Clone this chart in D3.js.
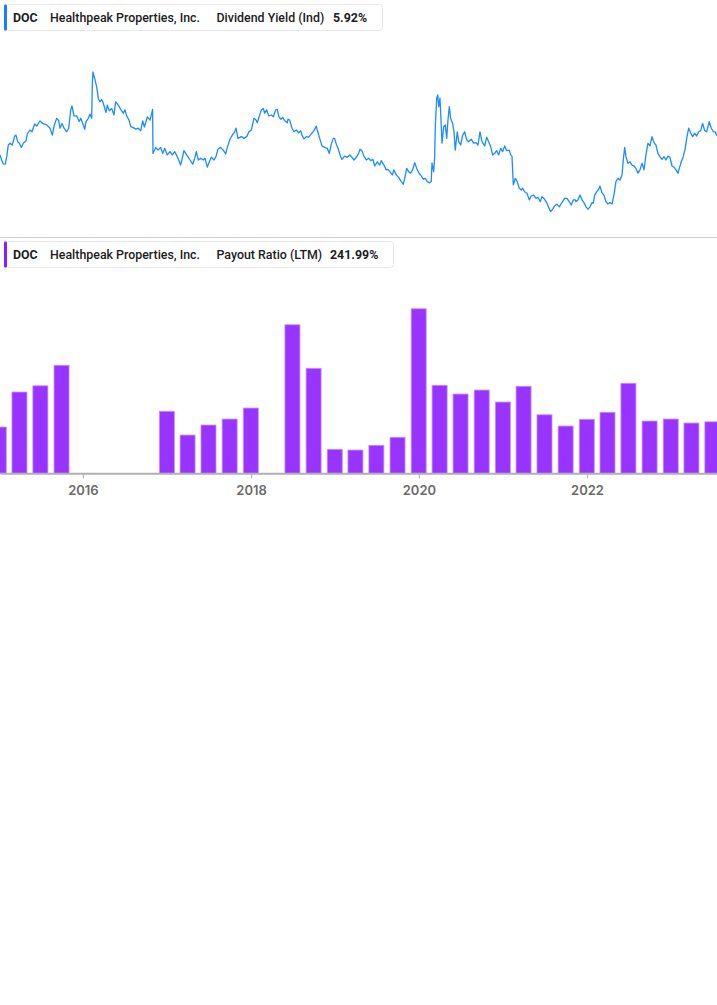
<!DOCTYPE html>
<html>
<head>
<meta charset="utf-8">
<script src="https://cdn.jsdelivr.net/npm/d3@7"></script>
<style>
  html, body { margin: 0; padding: 0; background: #ffffff; }
  svg { display: block; font-family: Roboto, "Noto Sans", sans-serif; }
</style>
</head>
<body>
<svg id="chart" width="717" height="1005"></svg>
<script>
// ---------- DATA ----------
const ticker = "DOC";
const company = "Healthpeak Properties, Inc.";
const yieldLabel = "Dividend Yield (Ind)";
const yieldLatest = "5.92%";
const payoutLabel = "Payout Ratio (LTM)";
const payoutLatest = "241.99%";

// Dividend yield (%) — dates as decimal years
const yieldDates = [
2015.012,2015.032,2015.051,2015.075,2015.092,2015.111,2015.131,2015.158,2015.187,2015.202,2015.223,2015.242,2015.266,2015.289,2015.322,2015.337,2015.369,2015.393,2015.425,2015.449,2015.488,2015.520,2015.568,2015.607,2015.635,2015.655,2015.687,2015.711,2015.726,2015.750,2015.774,2015.806,2015.830,2015.854,2015.869,2015.893,2015.925,2015.956,2015.973,2016.004,2016.020,2016.036,2016.063,2016.083,2016.104,2016.111,2016.119,2016.143,2016.163,2016.182,2016.202,2016.223,2016.242,2016.274,2016.289,2016.313,2016.342,2016.369,2016.389,2016.420,2016.449,2016.480,2016.500,2016.520,2016.548,2016.568,2016.599,2016.631,2016.658,2016.687,2016.711,2016.732,2016.766,2016.798,2016.829,2016.833,2016.866,2016.893,2016.925,2016.949,2016.973,2017.004,2017.036,2017.063,2017.092,2017.123,2017.163,2017.202,2017.235,2017.274,2017.306,2017.330,2017.349,2017.373,2017.401,2017.432,2017.452,2017.480,2017.504,2017.528,2017.560,2017.583,2017.607,2017.639,2017.670,2017.699,2017.718,2017.750,2017.777,2017.806,2017.822,2017.845,2017.885,2017.917,2017.949,2017.976,2018.004,2018.036,2018.060,2018.075,2018.095,2018.123,2018.147,2018.163,2018.187,2018.211,2018.242,2018.266,2018.294,2018.313,2018.333,2018.354,2018.377,2018.401,2018.432,2018.441,2018.461,2018.488,2018.512,2018.539,2018.568,2018.592,2018.607,2018.631,2018.658,2018.687,2018.718,2018.750,2018.777,2018.789,2018.818,2018.845,2018.877,2018.908,2018.932,2018.956,2018.980,2018.996,2019.015,2019.036,2019.068,2019.083,2019.115,2019.146,2019.179,2019.202,2019.226,2019.254,2019.282,2019.298,2019.321,2019.345,2019.373,2019.401,2019.425,2019.452,2019.473,2019.504,2019.532,2019.551,2019.583,2019.611,2019.631,2019.663,2019.682,2019.702,2019.730,2019.758,2019.789,2019.813,2019.830,2019.854,2019.877,2019.901,2019.925,2019.949,2019.973,2019.996,2020.020,2020.051,2020.075,2020.099,2020.127,2020.146,2020.155,2020.175,2020.187,2020.194,2020.211,2020.223,2020.235,2020.250,2020.266,2020.274,2020.294,2020.313,2020.330,2020.345,2020.361,2020.377,2020.401,2020.417,2020.432,2020.456,2020.473,2020.496,2020.520,2020.544,2020.568,2020.592,2020.623,2020.651,2020.679,2020.702,2020.726,2020.750,2020.782,2020.806,2020.830,2020.854,2020.877,2020.901,2020.925,2020.949,2020.973,2020.997,2021.020,2021.044,2021.075,2021.092,2021.107,2021.123,2021.147,2021.170,2021.194,2021.218,2021.235,2021.258,2021.286,2021.313,2021.337,2021.366,2021.393,2021.417,2021.444,2021.464,2021.496,2021.524,2021.544,2021.568,2021.592,2021.615,2021.643,2021.670,2021.702,2021.735,2021.762,2021.789,2021.813,2021.837,2021.861,2021.869,2021.893,2021.917,2021.941,2021.964,2021.988,2022.012,2022.036,2022.060,2022.075,2022.092,2022.115,2022.139,2022.155,2022.179,2022.202,2022.226,2022.250,2022.274,2022.298,2022.321,2022.345,2022.369,2022.393,2022.417,2022.432,2022.449,2022.464,2022.488,2022.512,2022.536,2022.560,2022.583,2022.607,2022.631,2022.655,2022.679,2022.702,2022.726,2022.750,2022.774,2022.798,2022.821,2022.845,2022.869,2022.893,2022.917,2022.940,2022.964,2022.988,2023.012,2023.036,2023.060,2023.083,2023.099,2023.123,2023.146,2023.170,2023.187,2023.211,2023.234,2023.258,2023.282,2023.306,2023.330,2023.354,2023.377,2023.401,2023.425,2023.456,2023.480,2023.504,2023.527,2023.548
];
const yieldValues = [
5.29,5.12,4.99,4.98,5.23,5.62,5.68,5.62,5.92,5.95,5.73,5.68,5.54,5.68,5.76,5.99,6.12,6.06,6.32,6.25,6.42,6.34,6.29,6.18,5.95,6.25,6.51,6.43,6.18,6.34,6.18,6.06,6.18,6.79,6.92,6.59,6.59,6.40,6.51,6.29,6.14,6.40,6.51,6.65,6.51,7.68,8.06,7.79,7.56,7.18,7.06,7.14,7.01,6.70,6.95,6.76,6.84,6.62,7.06,6.95,6.81,6.68,6.79,6.59,6.45,6.23,6.20,6.15,6.18,6.09,6.42,6.22,6.56,6.45,6.81,5.34,5.54,5.45,5.54,5.34,5.51,5.29,5.40,5.29,5.40,5.23,4.95,5.43,5.29,5.12,4.98,5.18,5.40,5.12,5.18,5.12,5.18,4.88,5.06,5.21,5.12,5.23,5.48,5.54,5.45,5.32,5.54,5.81,5.95,6.06,6.18,5.84,5.90,5.84,5.90,6.06,6.12,6.51,6.45,6.36,6.54,6.79,6.84,6.68,6.79,6.59,6.62,6.56,6.79,6.81,6.56,6.48,6.54,6.43,6.36,6.48,6.45,6.18,6.06,6.12,6.03,6.10,5.95,5.82,5.90,5.88,5.99,6.10,6.25,6.12,5.84,5.59,5.54,5.51,5.34,5.65,5.84,5.84,5.65,5.51,5.23,5.14,5.25,5.21,5.29,5.21,5.12,5.21,5.34,5.48,5.43,5.25,5.12,5.18,5.10,5.14,4.92,5.06,4.95,5.10,4.95,4.79,4.81,4.70,4.62,4.79,4.62,4.54,4.40,4.31,4.51,4.84,4.73,4.68,4.79,5.03,4.84,4.70,4.62,4.48,4.51,4.40,4.36,4.40,5.02,4.73,5.23,6.23,7.18,7.29,6.90,7.18,6.23,5.68,6.23,6.29,5.84,6.45,6.90,6.51,6.34,6.06,5.45,6.06,5.73,5.62,5.95,6.06,5.79,5.73,5.81,5.68,5.70,5.62,6.06,5.73,5.59,5.88,5.73,5.56,5.29,5.34,5.43,5.29,5.51,5.40,5.59,5.43,5.45,5.29,5.25,4.29,4.51,4.40,4.18,4.12,4.18,4.06,4.01,3.79,3.92,3.95,3.84,3.88,3.73,3.90,3.81,3.68,3.54,3.40,3.48,3.59,3.65,3.56,3.70,3.84,3.84,3.73,3.62,3.79,3.79,3.73,3.79,3.95,3.79,3.70,3.56,3.48,3.56,3.70,3.68,3.95,4.06,4.14,4.25,4.03,3.95,3.73,3.65,3.70,3.65,3.95,4.40,4.51,4.45,4.62,5.12,5.54,5.23,5.01,5.06,4.95,4.92,4.84,4.68,4.79,5.01,4.79,5.29,5.68,5.59,5.90,5.70,5.62,5.34,5.23,5.14,5.23,5.12,5.25,5.21,4.92,4.88,4.79,4.68,4.84,5.06,5.23,5.51,5.84,6.18,6.03,5.90,6.01,5.92,6.06,6.10,6.34,6.10,6.06,6.40,6.18,6.06,6.06,5.92
];

// Payout ratio (LTM, %) — quarter ends; null = not reported
const payoutQuarters = ["2014-12-31","2015-03-31","2015-06-30","2015-09-30","2015-12-31","2016-03-31","2016-06-30","2016-09-30","2016-12-31","2017-03-31","2017-06-30","2017-09-30","2017-12-31","2018-03-31","2018-06-30","2018-09-30","2018-12-31","2019-03-31","2019-06-30","2019-09-30","2019-12-31","2020-03-31","2020-06-30","2020-09-30","2020-12-31","2021-03-31","2021-06-30","2021-09-30","2021-12-31","2022-03-31","2022-06-30","2022-09-30","2022-12-31","2023-03-31","2023-06-30"];
const payoutValues = [185,325,350,432,null,null,null,null,248,153,193,217,261,null,594,420,96,93,112,144,658,352,317,333,285,348,234,189,216,244,360,209,217,201,206];

const xDomainYears = [2015.012, 2023.548];
const axisTickYears = [2016, 2018, 2020, 2022];

// ---------- CHART ----------
const W = 717;
const svg = d3.select("#chart");
const toDate = dy => new Date(Date.UTC(2015, 0, 1) + (dy - 2015) * 365.25 * 86400000);
const parse = d3.utcParse("%Y-%m-%d");

const x = d3.scaleUtc().domain(xDomainYears.map(toDate)).range([0, W]);

svg.append("defs").append("clipPath").attr("id", "clip")
  .append("rect").attr("x", 0).attr("y", 0).attr("width", W).attr("height", 1005);

// Legend helper
function legend(y0, width, accent, metric, value, metricX, valueX) {
  const g = svg.append("g").attr("transform", `translate(0,${y0})`);
  g.append("rect").attr("x", 4.5).attr("y", 0.5).attr("width", width).attr("height", 26)
    .attr("rx", 3).attr("fill", "#fff").attr("stroke", "#e8e8ec");
  g.append("rect").attr("x", 4).attr("y", 0.5).attr("width", 3).attr("height", 26)
    .attr("rx", 1.2).attr("fill", accent);
  const t = (tx, s, w) => g.append("text").attr("x", tx).attr("y", 17.5)
    .attr("font-size", 12.4).attr("font-weight", w).attr("fill", "#1c1c22").text(s);
  t(13, ticker, 700);
  t(50, company, 500);
  t(metricX, metric, 500);
  t(valueX, value, 700);
}

// ---- Dividend yield line ----
const yY = d3.scaleLinear().domain([3, 9]).range([223.6, 43.6]);
const yieldData = yieldDates.map((d, i) => ({ date: toDate(d), v: yieldValues[i] }));
svg.append("g").attr("clip-path", "url(#clip)")
  .append("path").datum(yieldData)
  .attr("fill", "none").attr("stroke", "#1a8cff").attr("stroke-width", 1.3)
  .attr("stroke-linejoin", "round")
  .attr("d", d3.line().x(d => x(d.date)).y(d => yY(d.v)));

legend(4, 378, "#1a7fff", yieldLabel, yieldLatest, 216.5, 333);

// separator
svg.append("line").attr("x1", 0).attr("x2", W).attr("y1", 237.5).attr("y2", 237.5)
  .attr("stroke", "#cfcfd4").attr("stroke-width", 1);

legend(241, 389, "#8c1cff", payoutLabel, payoutLatest, 216.5, 330);

// ---- Payout ratio bars ----
const base = 473.3;
const yB = d3.scaleLinear().domain([0, 700]).range([base, base - 175]);
const barData = payoutQuarters.map((q, i) => ({ date: parse(q), v: payoutValues[i] }))
  .filter(d => d.v != null);
const bw = 15;
svg.append("g").attr("clip-path", "url(#clip)")
  .selectAll("rect").data(barData).join("rect")
  .attr("x", d => x(d.date) - bw / 2)
  .attr("y", d => yB(d.v))
  .attr("width", bw)
  .attr("height", d => base - yB(d.v))
  .attr("fill", "#9933ff")
  .attr("stroke", "#c48dff").attr("stroke-width", 0.8);

// x axis
const axis = d3.axisBottom(x)
  .tickValues(axisTickYears.map(yv => new Date(Date.UTC(yv, 0, 1))))
  .tickFormat(d3.utcFormat("%Y"))
  .tickSize(5).tickSizeOuter(0).tickPadding(7);
const ag = svg.append("g").attr("transform", `translate(0,${base})`).call(axis);
ag.select(".domain").attr("stroke", "#b0b0b0").attr("stroke-width", 2);
ag.selectAll(".tick line").attr("stroke", "#b0b0b0").attr("stroke-width", 1.2);
ag.selectAll(".tick text").attr("fill", "#6b6b6b").attr("font-size", 13)
  .attr("font-weight", 600).attr("font-family", "Inter, Roboto, sans-serif");
</script>
</body>
</html>
